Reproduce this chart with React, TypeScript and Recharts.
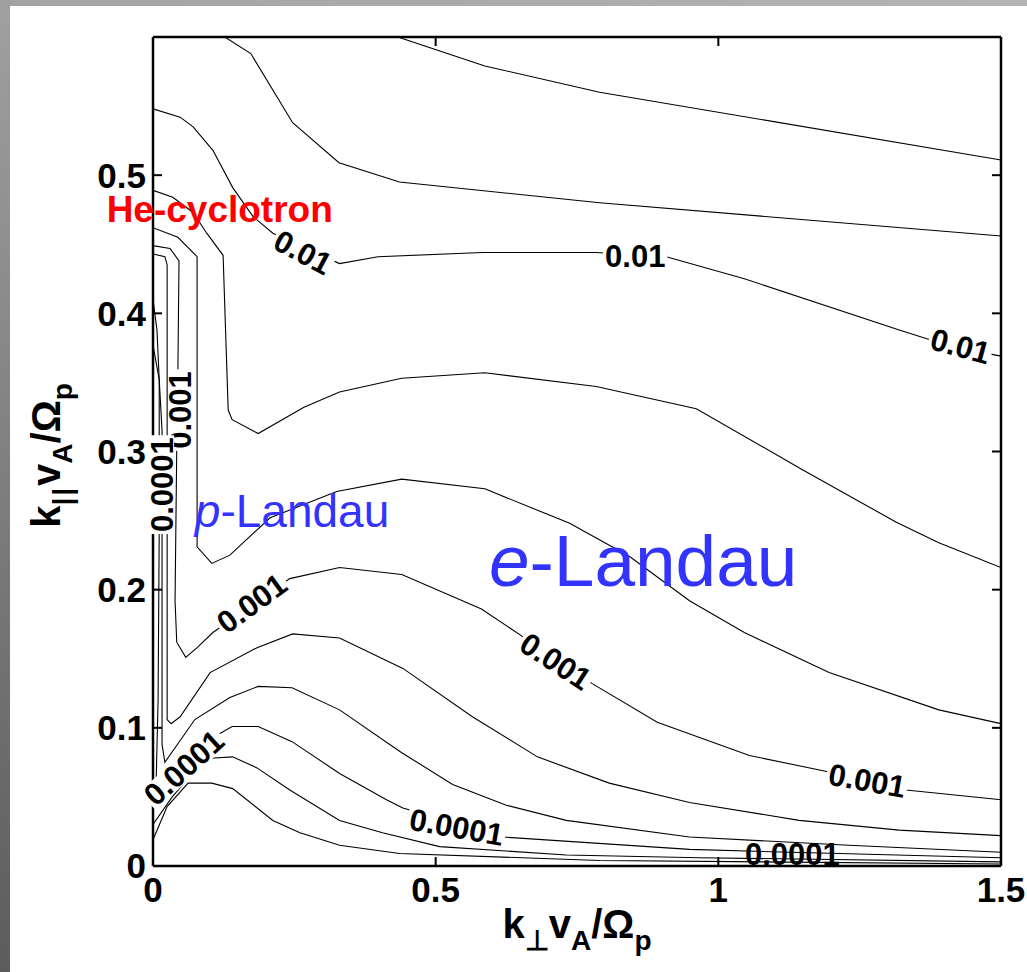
import React from "react";
import { LineChart, Line, XAxis, YAxis, ReferenceDot } from "recharts";

// axis ticks
const xTicks = [0, 0.5, 1, 1.5];
const yTicks = [0, 0.1, 0.2, 0.3, 0.4, 0.5];
const rightTicks = [0.1, 0.2, 0.3, 0.4, 0.5];

// contour lines (k_perp, k_par)
const lineA = [
  { x: 0.433, y: 0.6 }, { x: 0.587, y: 0.579 }, { x: 0.79, y: 0.56 }, { x: 1.5, y: 0.511 },
];
const lineB = [
  { x: 0.127, y: 0.6 }, { x: 0.173, y: 0.588 }, { x: 0.247, y: 0.538 }, { x: 0.329, y: 0.509 },
  { x: 0.436, y: 0.495 }, { x: 0.79, y: 0.48 }, { x: 1.5, y: 0.456 },
];
const line01 = [
  { x: 0, y: 0.548 }, { x: 0.048, y: 0.542 }, { x: 0.071, y: 0.535 }, { x: 0.106, y: 0.518 },
  { x: 0.141, y: 0.491 }, { x: 0.177, y: 0.47 }, { x: 0.212, y: 0.458 }, { x: 0.33, y: 0.436 },
  { x: 0.398, y: 0.441 }, { x: 0.583, y: 0.444 }, { x: 0.784, y: 0.444 }, { x: 0.908, y: 0.441 },
  { x: 1.046, y: 0.425 }, { x: 1.32, y: 0.388 }, { x: 1.373, y: 0.381 }, { x: 1.475, y: 0.371 },
  { x: 1.5, y: 0.369 },
];
const lineC = [
  { x: 0, y: 0.489 }, { x: 0.035, y: 0.484 }, { x: 0.071, y: 0.473 }, { x: 0.095, y: 0.458 },
  { x: 0.124, y: 0.442 }, { x: 0.133, y: 0.33 }, { x: 0.14, y: 0.323 }, { x: 0.186, y: 0.313 },
  { x: 0.267, y: 0.332 }, { x: 0.33, y: 0.343 }, { x: 0.44, y: 0.353 }, { x: 0.587, y: 0.357 },
  { x: 0.784, y: 0.347 }, { x: 0.961, y: 0.331 }, { x: 1.148, y: 0.287 }, { x: 1.314, y: 0.249 },
  { x: 1.39, y: 0.234 }, { x: 1.5, y: 0.216 },
];
const lineD = [
  { x: 0, y: 0.462 }, { x: 0.044, y: 0.455 }, { x: 0.078, y: 0.441 }, { x: 0.078, y: 0.231 },
  { x: 0.104, y: 0.219 }, { x: 0.136, y: 0.225 }, { x: 0.207, y: 0.252 }, { x: 0.325, y: 0.271 },
  { x: 0.44, y: 0.28 }, { x: 0.587, y: 0.273 }, { x: 0.737, y: 0.248 }, { x: 0.843, y: 0.224 },
  { x: 0.949, y: 0.192 }, { x: 1.046, y: 0.169 }, { x: 1.196, y: 0.14 }, { x: 1.39, y: 0.113 },
  { x: 1.5, y: 0.103 },
];
const line001 = [
  { x: 0, y: 0.449 }, { x: 0.03, y: 0.447 }, { x: 0.046, y: 0.438 }, { x: 0.044, y: 0.357 },
  { x: 0.042, y: 0.302 }, { x: 0.039, y: 0.192 }, { x: 0.042, y: 0.162 }, { x: 0.058, y: 0.151 },
  { x: 0.078, y: 0.158 }, { x: 0.106, y: 0.169 }, { x: 0.242, y: 0.208 }, { x: 0.33, y: 0.216 },
  { x: 0.44, y: 0.211 }, { x: 0.581, y: 0.186 }, { x: 0.654, y: 0.166 }, { x: 0.777, y: 0.132 },
  { x: 0.892, y: 0.104 }, { x: 1.055, y: 0.08 }, { x: 1.196, y: 0.068 }, { x: 1.332, y: 0.055 },
  { x: 1.5, y: 0.048 },
];
const lineE = [
  { x: 0, y: 0.443 }, { x: 0.021, y: 0.441 }, { x: 0.025, y: 0.435 }, { x: 0.025, y: 0.106 },
  { x: 0.032, y: 0.103 }, { x: 0.048, y: 0.108 }, { x: 0.101, y: 0.14 }, { x: 0.184, y: 0.158 },
  { x: 0.247, y: 0.168 }, { x: 0.33, y: 0.165 }, { x: 0.442, y: 0.143 }, { x: 0.565, y: 0.108 },
  { x: 0.68, y: 0.079 }, { x: 0.807, y: 0.06 }, { x: 0.949, y: 0.046 }, { x: 1.143, y: 0.033 },
  { x: 1.32, y: 0.026 }, { x: 1.5, y: 0.022 },
];
const lineF = [
  { x: 0, y: 0.377 }, { x: 0.011, y: 0.352 }, { x: 0.016, y: 0.315 }, { x: 0.016, y: 0.088 },
  { x: 0.021, y: 0.075 }, { x: 0.074, y: 0.106 }, { x: 0.136, y: 0.122 }, { x: 0.186, y: 0.13 },
  { x: 0.246, y: 0.129 }, { x: 0.33, y: 0.113 }, { x: 0.44, y: 0.082 }, { x: 0.53, y: 0.059 },
  { x: 0.625, y: 0.044 }, { x: 0.731, y: 0.033 }, { x: 0.949, y: 0.021 }, { x: 1.231, y: 0.015 },
  { x: 1.5, y: 0.01 },
];
const line0001 = [
  { x: 0, y: 0.41 }, { x: 0.007, y: 0.388 }, { x: 0.011, y: 0.352 }, { x: 0.011, y: 0.308 },
  { x: 0.011, y: 0.243 }, { x: 0.009, y: 0.12 }, { x: 0.005, y: 0.051 }, { x: 0.106, y: 0.093 },
  { x: 0.14, y: 0.101 }, { x: 0.186, y: 0.101 }, { x: 0.246, y: 0.09 }, { x: 0.33, y: 0.067 },
  { x: 0.413, y: 0.048 }, { x: 0.442, y: 0.042 }, { x: 0.618, y: 0.021 }, { x: 0.949, y: 0.012 },
  { x: 1.214, y: 0.009 }, { x: 1.5, y: 0.006 },
];
const lineG = [
  { x: 0, y: 0.03 }, { x: 0.034, y: 0.05 }, { x: 0.074, y: 0.069 }, { x: 0.101, y: 0.078 },
  { x: 0.141, y: 0.079 }, { x: 0.184, y: 0.071 }, { x: 0.242, y: 0.055 }, { x: 0.33, y: 0.033 },
  { x: 0.406, y: 0.024 }, { x: 0.507, y: 0.014 }, { x: 0.731, y: 0.008 }, { x: 0.966, y: 0.006 },
  { x: 1.5, y: 0.003 },
];
const lineH = [
  { x: 0, y: 0.019 }, { x: 0.025, y: 0.043 }, { x: 0.062, y: 0.06 }, { x: 0.104, y: 0.06 },
  { x: 0.141, y: 0.056 }, { x: 0.212, y: 0.033 }, { x: 0.26, y: 0.024 }, { x: 0.33, y: 0.015 },
  { x: 0.436, y: 0.009 }, { x: 0.79, y: 0.004 }, { x: 1.5, y: 0.0015 },
];

const contours = [lineA, lineB, line01, lineC, lineD, line001, lineE, lineF, line0001, lineG, lineH];

// contour level labels: position and rotation
const levelLabels = [
  { x: 0.265, y: 0.444, text: "0.01", angle: 28 },
  { x: 0.853, y: 0.441, text: "0.01", angle: 0 },
  { x: 1.428, y: 0.376, text: "0.01", angle: 15 },
  { x: 0.049, y: 0.33, text: "0.001", angle: -90 },
  { x: 0.016, y: 0.276, text: "0.0001", angle: -90 },
  { x: 0.175, y: 0.19, text: "0.001", angle: -36 },
  { x: 0.712, y: 0.148, text: "0.001", angle: 33 },
  { x: 1.263, y: 0.0615, text: "0.001", angle: 10 },
  { x: 0.055, y: 0.071, text: "0.0001", angle: -42 },
  { x: 0.537, y: 0.028, text: "0.0001", angle: 10 },
  { x: 1.131, y: 0.008, text: "0.0001", angle: 0 },
];

const regionLabels = [
  { x: 0.118, y: 0.466, name: "He-cyclotron" },
  { x: 0.246, y: 0.245, name: "p" },
  { x: 0.867, y: 0.203, name: "e" },
];

const FONT = "'Liberation Sans', Arial, Helvetica, sans-serif";
const LEVEL_FS = 31;

const fmt = (v: number) => String(v);

const textWidth = (s: string, fs: number) => {
  let w = 0;
  for (const c of s) w += c === "." ? 0.278 : 0.556;
  return w * fs;
};

const LevelText = (p: any, text: string, angle: number, boxed: boolean) => {
  const w = textWidth(text, LEVEL_FS) + 4;
  const h = LEVEL_FS * 0.78;
  return (
    <g transform={`rotate(${angle}, ${p.cx}, ${p.cy})`}>
      {boxed && <rect x={p.cx - w / 2} y={p.cy - h / 2} width={w} height={h} fill="#fff" />}
      <text
        x={p.cx}
        y={p.cy}
        textAnchor="middle"
        dominantBaseline="central"
        fontFamily={FONT}
        fontWeight="bold"
        fontSize={LEVEL_FS}
        fill="#000"
      >
        {text}
      </text>
    </g>
  );
};

const RegionText = (p: any, name: string) => {
  if (name === "He-cyclotron") {
    return (
      <text x={p.cx} y={p.cy} textAnchor="middle" fontFamily={FONT} fontWeight="bold" fontSize={37} fill="#ff0000">
        He-cyclotron
      </text>
    );
  }
  const big = name === "e";
  return (
    <text x={p.cx} y={p.cy} textAnchor="middle" fontFamily={FONT} fontSize={big ? 73 : 46} fill="#3333ff">
      <tspan fontStyle="italic">{name}</tspan>-Landau
    </text>
  );
};

const XTitle = (props: any) => {
  const vb = props.viewBox;
  const cx = vb.x + vb.width / 2;
  return (
    <text x={cx} y={vb.y + 72} textAnchor="middle" fontFamily={FONT} fontWeight="bold" fontSize={40} fill="#000">
      k<tspan fontSize={28} dy={12}>⊥</tspan>
      <tspan dy={-12}>v</tspan>
      <tspan fontSize={28} dy={12}>A</tspan>
      <tspan dy={-12}>/Ω</tspan>
      <tspan fontSize={28} dy={12}>p</tspan>
    </text>
  );
};

const YTitle = (props: any) => {
  const vb = props.viewBox;
  const cy = vb.y + vb.height / 2 + 4;
  const x = 60;
  return (
    <text
      x={x}
      y={cy}
      textAnchor="middle"
      transform={`rotate(-90, ${x}, ${cy})`}
      fontFamily={FONT}
      fontWeight="bold"
      fontSize={40}
      fill="#000"
    >
      k<tspan fontSize={28} dy={12} letterSpacing={2}>||</tspan>
      <tspan dy={-12}>v</tspan>
      <tspan fontSize={28} dy={12}>A</tspan>
      <tspan dy={-12}>/Ω</tspan>
      <tspan fontSize={28} dy={12}>p</tspan>
    </text>
  );
};

const tickStyle = { fill: "#000", fontSize: 35, fontFamily: FONT, fontWeight: "bold" as const };
const axisLineStyle = { stroke: "#000", strokeWidth: 2.5 };
const tickLineStyle = { stroke: "#000", strokeWidth: 2 };

export default function App() {
  return (
    <div style={{ position: "absolute", left: 0, top: 0, width: 1027, height: 972, overflow: "hidden" }}>
      <div
        style={{
          position: "absolute",
          left: 0,
          top: 0,
          width: 1027,
          height: 6,
          background: "linear-gradient(to right, #a3a3a3, #b4b4b4)",
        }}
      />
      <div
        style={{
          position: "absolute",
          left: 0,
          top: 0,
          width: 10,
          height: 972,
          background: "linear-gradient(to bottom, #a0a0a0, #5c5c5c)",
        }}
      />
      <div style={{ position: "absolute", left: 10, top: 6, right: 0, bottom: 0, background: "#fff" }} />
      <div style={{ position: "absolute", left: 0, top: 0 }}>
        <LineChart width={1027} height={972} margin={{ top: 7, right: 6, bottom: 56, left: 63 }}>
          <XAxis
            dataKey="x"
            type="number"
            domain={[0, 1.5]}
            ticks={xTicks}
            allowDataOverflow
            height={50}
            tickFormatter={fmt}
            tick={tickStyle}
            axisLine={axisLineStyle}
            tickLine={tickLineStyle}
            tickSize={-9}
            tickMargin={20}
            label={<XTitle />}
          />
          <XAxis
            xAxisId="top"
            dataKey="x"
            type="number"
            orientation="top"
            domain={[0, 1.5]}
            ticks={xTicks}
            allowDataOverflow
            height={30}
            tick={() => <g />}
            axisLine={axisLineStyle}
            tickLine={tickLineStyle}
            tickSize={-9}
          />
          <YAxis
            type="number"
            domain={[0, 0.6]}
            ticks={yTicks}
            allowDataOverflow
            width={90}
            tickFormatter={fmt}
            tick={tickStyle}
            axisLine={axisLineStyle}
            tickLine={tickLineStyle}
            tickSize={-9}
            tickMargin={16}
            label={<YTitle />}
          />
          <YAxis
            yAxisId="right"
            orientation="right"
            type="number"
            domain={[0, 0.6]}
            ticks={rightTicks}
            allowDataOverflow
            width={20}
            tick={() => <g />}
            axisLine={axisLineStyle}
            tickLine={tickLineStyle}
            tickSize={-9}
          />
          {contours.map((pts, i) => (
            <Line
              key={i}
              data={pts}
              dataKey="y"
              type="linear"
              stroke="#000"
              strokeWidth={1.1}
              dot={false}
              activeDot={false}
              isAnimationActive={false}
            />
          ))}
          {levelLabels.map((l, i) => (
            <ReferenceDot
              key={`lv${i}`}
              x={l.x}
              y={l.y}
              r={1}
              ifOverflow="visible"
              shape={(p: any) => LevelText(p, l.text, l.angle, i !== levelLabels.length - 1)}
            />
          ))}
          {regionLabels.map((l, i) => (
            <ReferenceDot
              key={`rg${i}`}
              x={l.x}
              y={l.y}
              r={1}
              ifOverflow="visible"
              shape={(p: any) => RegionText(p, l.name)}
            />
          ))}
        </LineChart>
      </div>
    </div>
  );
}
